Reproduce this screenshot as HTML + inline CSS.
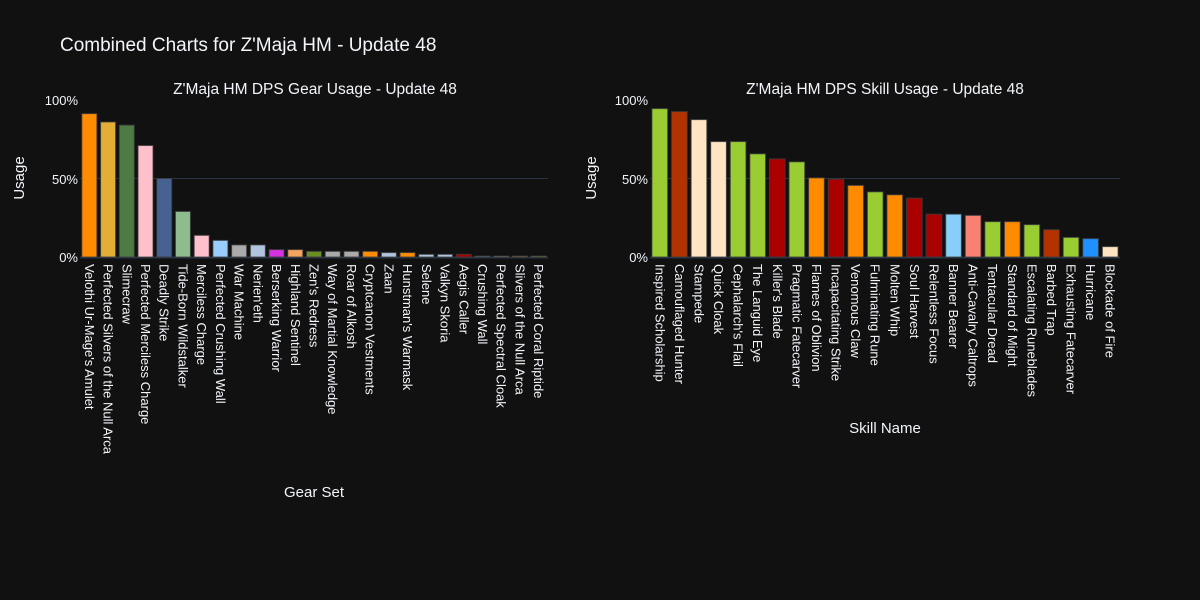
<!DOCTYPE html>
<html><head><meta charset="utf-8"><style>
html,body{margin:0;padding:0;background:#111111;}
svg{display:block;font-family:"Liberation Sans",Arial,sans-serif;}
</style></head><body>
<svg id="s" width="1200" height="600" xmlns="http://www.w3.org/2000/svg">
<rect width="1200" height="600" fill="#111111"/>
<text x="60" y="51" fill="#f2f5fa" font-size="19">Combined Charts for Z'Maja HM - Update 48</text>
<text x="315" y="94" fill="#f2f5fa" font-size="15.5" text-anchor="middle">Z'Maja HM DPS Gear Usage - Update 48</text>
<text x="885" y="94" fill="#f2f5fa" font-size="15.5" text-anchor="middle">Z'Maja HM DPS Skill Usage - Update 48</text>
<line x1="80" x2="548" y1="178.5" y2="178.5" stroke="#283442"/>
<line x1="650" x2="1120" y1="178.5" y2="178.5" stroke="#283442"/>
<line x1="80" x2="548" y1="257.5" y2="257.5" stroke="#283442" stroke-width="2"/>
<line x1="650" x2="1120" y1="257.5" y2="257.5" stroke="#283442" stroke-width="2"/>
<g fill="#f2f5fa" font-size="13" text-anchor="end">
<text x="78" y="105">100%</text><text x="78" y="184">50%</text><text x="78" y="262">0%</text>
<text x="648" y="105">100%</text><text x="648" y="184">50%</text><text x="648" y="262">0%</text>
</g>
<text transform="translate(24,178) rotate(-90)" fill="#f2f5fa" font-size="15" text-anchor="middle">Usage</text>
<text transform="translate(596,178) rotate(-90)" fill="#f2f5fa" font-size="15" text-anchor="middle">Usage</text>
<text x="314" y="497" fill="#f2f5fa" font-size="15" text-anchor="middle">Gear Set</text>
<text x="885" y="433" fill="#f2f5fa" font-size="15" text-anchor="middle">Skill Name</text>
<g id="g1"></g><g id="g2"></g>
</svg>
<script>
const L=[["Velothi Ur-Mage's Amulet",91.3,"#ff8c00"],["Perfected Silvers of the Null Arca",86,"#e3ae36"],["Slimecraw",84,"#4e7a43"],["Perfected Merciless Charge",71,"#ffc0cb"],["Deadly Strike",50,"#476290"],["Tide-Born Wildstalker",29,"#8fbc8f"],["Merciless Charge",13.8,"#ffc0cb"],["Perfected Crushing Wall",10.6,"#99ccff"],["War Machine",7.7,"#aaaaaa"],["Nerien'eth",7.7,"#b0c4de"],["Berserking Warrior",4.7,"#d633e0"],["Highland Sentinel",4.7,"#f4a460"],["Zen's Redress",3.6,"#6b8e23"],["Way of Martial Knowledge",3.6,"#aaaaaa"],["Roar of Alkosh",3.6,"#aaaaaa"],["Cryptcanon Vestments",3.6,"#ff8c00"],["Zaan",2.8,"#b0c4de"],["Hunstman's Warmask",2.8,"#ff8c00"],["Selene",1.7,"#b0c4de"],["Valkyn Skoria",1.7,"#b0c4de"],["Aegis Caller",1.7,"#aa0000"],["Crushing Wall",0.6,"#6fa8dc"],["Perfected Spectral Cloak",0.6,"#deb887"],["Slivers of the Null Arca",0.6,"#e3a020"],["Perfected Coral Riptide",0.6,"#9acd32"]];
const R=[["Inspired Scholarship",94.5,"#9acd32"],["Camouflaged Hunter",92.6,"#b33300"],["Stampede",87.5,"#ffe4c4"],["Quick Cloak",73.5,"#ffe4c4"],["Cephalarch's Flail",73.5,"#9acd32"],["The Languid Eye",65.7,"#9acd32"],["Killer's Blade",62.5,"#aa0000"],["Pragmatic Fatecarver",60.6,"#9acd32"],["Flames of Oblivion",50.4,"#ff8c00"],["Incapacitating Strike",49.6,"#aa0000"],["Venomous Claw",45.6,"#ff8c00"],["Fulminating Rune",41.5,"#9acd32"],["Molten Whip",39.6,"#ff8c00"],["Soul Harvest",37.5,"#aa0000"],["Relentless Focus",27.3,"#aa0000"],["Banner Bearer",27.3,"#87cefa"],["Anti-Cavalry Caltrops",26.5,"#fa8072"],["Tentacular Dread",22.5,"#9acd32"],["Standard of Might",22.5,"#ff8c00"],["Escalating Runeblades",20.6,"#9acd32"],["Barbed Trap",17.4,"#b33300"],["Exhausting Fatecarver",12.5,"#9acd32"],["Hurricane",11.7,"#1e90ff"],["Blockade of Fire",6.6,"#ffe4c4"]];
const NS="http://www.w3.org/2000/svg";
function draw(id,data,x0,x1){const g=document.getElementById(id);const p=(x1-x0)/data.length;
data.forEach((d,i)=>{const c=x0+p*(i+0.5),w=p*0.8,h=d[1]*1.57;
const r=document.createElementNS(NS,"rect");r.setAttribute("x",c-w/2);r.setAttribute("y",257-h);r.setAttribute("width",w);r.setAttribute("height",h);r.setAttribute("fill",d[2]);r.setAttribute("stroke","rgba(60,60,60,0.8)");r.setAttribute("stroke-width","1");g.appendChild(r);
const t=document.createElementNS(NS,"text");t.setAttribute("transform",`translate(${c-4.5},264) rotate(90)`);t.setAttribute("fill","#f2f5fa");t.setAttribute("font-size","13");t.textContent=d[0];g.appendChild(t);});}
draw("g1",L,80,548);draw("g2",R,650,1120);
</script>
</body></html>
